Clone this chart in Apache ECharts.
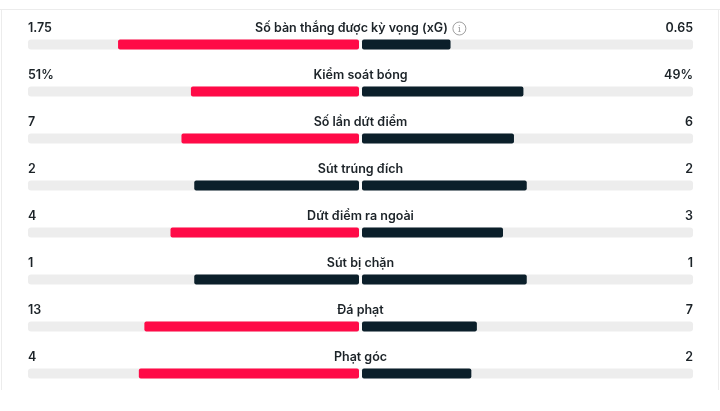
<!DOCTYPE html>
<html>
<head>
<meta charset="UTF-8">
<title>Thống kê trận đấu</title>
<script src="https://cdn.jsdelivr.net/npm/echarts@6/dist/echarts.min.js"></script>
<style>
  html, body { margin: 0; padding: 0; background: #fff; }
  #container { width: 720px; height: 411px; }
</style>
</head>
<body>
<div id="container"></div>
<script>
// dữ liệu thống kê
var categories = ['Số bàn thắng được kỳ vọng (xG)', 'Kiểm soát bóng', 'Số lần dứt điểm', 'Sút trúng đích',
                  'Dứt điểm ra ngoài', 'Sút bị chặn', 'Đá phạt', 'Phạt góc'];
var homeValues = [1.75, 51, 7, 2, 4, 1, 13, 4];
var awayValues = [0.65, 49, 6, 2, 3, 1, 7, 2];
var homeLabels = ['1.75', '51%', '7', '2', '4', '1', '13', '4'];
var awayLabels = ['0.65', '49%', '6', '2', '3', '1', '7', '2'];
var infoRows = [0];  // dòng có biểu tượng (i)

var RED = '#ff0a47';
var DARK = '#0b1f2a';
var TRACK = '#ededed';
var TEXT = '#1c2328';
var FONT = 'Inter, Roboto, "Noto Sans", sans-serif';
var TITLE_FONT = '600 12.5px ' + FONT;
var NUM_FONT = '600 12.5px ' + FONT;

// đo độ rộng chữ để đặt biểu tượng (i)
var measureCtx = document.createElement('canvas').getContext('2d');
function textWidth(txt, font) {
  measureCtx.font = font;
  return measureCtx.measureText(txt).width;
}

var rows = categories.map(function (c, i) {
  return [i, homeValues[i], awayValues[i]];
});

function renderRow(params, api) {
  var i = api.value(0);
  var h = api.value(1), a = api.value(2);
  var total = h + a;
  var hs = total ? h / total : 0;
  var as = total ? a / total : 0;

  var c = api.coord([0, i]);
  var l = api.coord([-1, i]);
  var r = api.coord([1, i]);
  var barH = 10;
  var y = c[1] - barH / 2;
  var gap = 1.5;

  var hx = api.coord([-hs, i])[0];
  var ax = api.coord([as, i])[0];

  var children = [
    { type: 'rect', shape: { x: l[0], y: y, width: r[0] - l[0], height: barH, r: 3 },
      style: { fill: TRACK } },
    { type: 'rect', shape: { x: c[0] - gap - 0.5, y: y, width: 2 * gap + 1, height: barH },
      style: { fill: '#fafafa' } },
    { type: 'rect', shape: { x: hx, y: y, width: c[0] - gap - hx, height: barH, r: 2 },
      style: { fill: h > a ? RED : DARK } },
    { type: 'rect', shape: { x: c[0] + gap, y: y, width: ax - c[0] - gap, height: barH, r: 2 },
      style: { fill: a > h ? RED : DARK } }
  ];

  var ty = c[1] - 16;
  var hasInfo = infoRows.indexOf(i) >= 0;
  var tw = textWidth(categories[i], TITLE_FONT);
  var iconR = 6.5, iconGap = 5;
  var total = tw + (hasInfo ? iconGap + iconR * 2 : 0);
  var tx = c[0] - total / 2;
  children.push(
    { type: 'text', style: { x: l[0], y: ty, text: homeLabels[i], fill: TEXT,
      font: NUM_FONT, align: 'left', verticalAlign: 'middle' } },
    { type: 'text', style: { x: r[0], y: ty, text: awayLabels[i], fill: TEXT,
      font: NUM_FONT, align: 'right', verticalAlign: 'middle' } },
    { type: 'text', style: { x: tx, y: ty, text: categories[i], fill: TEXT,
      font: TITLE_FONT, align: 'left', verticalAlign: 'middle' } }
  );
  if (hasInfo) {
    var icx = tx + tw + iconGap + iconR;
    children.push(
      { type: 'circle', shape: { cx: icx, cy: ty, r: iconR },
        style: { fill: 'none', stroke: '#a0a0a0', lineWidth: 1 } },
      { type: 'text', style: { x: icx, y: ty + 0.5, text: 'i', fill: '#a0a0a0',
        font: '400 10px "DejaVu Serif", serif', align: 'center', verticalAlign: 'middle' } }
    );
  }
  return { type: 'group', children: children };
}

var dom = document.getElementById('container');
var myChart = echarts.init(dom, null, { renderer: 'canvas' });

var option = {
  backgroundColor: '#fff',
  animation: false,
  graphic: [
    { type: 'rect', shape: { x: 0, y: 9, width: 720, height: 1 }, style: { fill: '#ececec' }, z: -1 },
    { type: 'rect', shape: { x: 1, y: 9, width: 1, height: 381 }, style: { fill: '#ececec' }, z: -1 },
    { type: 'rect', shape: { x: 718, y: 9, width: 1, height: 381 }, style: { fill: '#ececec' }, z: -1 }
  ],
  grid: { left: 28, right: 27, top: 21, height: 376 },
  xAxis: { type: 'value', min: -1, max: 1, show: false },
  yAxis: { type: 'category', data: categories, inverse: true, show: false },
  series: [{
    type: 'custom',
    renderItem: renderRow,
    encode: { x: [1, 2], y: 0 },
    data: rows,
    clip: false
  }]
};

myChart.setOption(option, true);
</script>
</body>
</html>
